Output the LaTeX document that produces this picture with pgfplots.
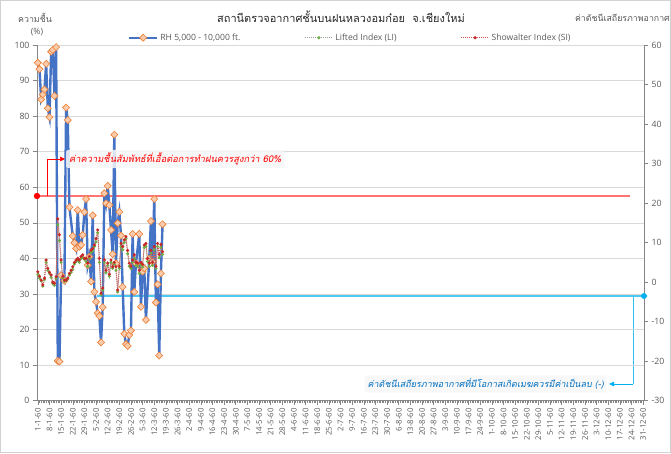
\documentclass[border=0pt]{standalone}
\usepackage{pgfplots}
\pgfplotsset{compat=1.18}
\usepackage{pgfplotstable}
\usepackage{fontspec}
\setmainfont{Open Sans}
\newfontfamily\thai[Script=Thai]{Loma}
\newfontfamily\thaiit[Script=Thai,FakeSlant=0.2]{Loma}
\usetikzlibrary{arrows.meta}

\definecolor{rhblue}{RGB}{68,114,196}
\definecolor{mkorange}{RGB}{237,125,49}
\definecolor{mkfill}{RGB}{248,203,173}
\definecolor{ligreen}{RGB}{112,173,71}
\definecolor{ligray}{RGB}{150,160,150}
\definecolor{sired}{RGB}{200,40,40}
\definecolor{gridc}{RGB}{217,217,217}
\definecolor{axc}{RGB}{134,134,134}
\definecolor{tickc}{RGB}{89,89,89}
\definecolor{annred}{RGB}{255,0,0}
\definecolor{anncyan}{RGB}{0,176,240}
\definecolor{annblue}{RGB}{0,112,192}

\pgfplotstableread{
d rh
0 95.0
1 93.2
2 84.7
3 86.1
4 87.5
5 94.7
6 82.2
7 79.7
8 98.1
9 98.6
10 85.7
11 99.4
12 11.2
13 11.0
14 35.3
16 33.7
17 82.4
18 78.9
19 54.4
21 46.3
22 44.4
23 42.8
24 53.6
25 43.3
26 43.8
27 46.6
28 53.0
29 56.7
30 38.1
31 40.5
32 33.5
33 52.1
34 30.6
35 27.8
36 24.6
37 23.8
38 16.4
39 26.3
40 58.3
41 55.5
42 60.4
43 55.0
44 48.0
45 41.2
46 74.8
47 38.6
48 49.9
49 53.1
50 46.4
51 32.0
52 18.8
53 15.9
54 15.4
55 18.5
56 19.7
57 46.9
58 30.6
59 38.6
61 46.9
62 26.4
63 36.3
64 37.2
65 22.7
67 39.9
68 50.5
69 39.1
70 56.7
71 27.6
72 32.7
73 12.7
74 35.8
75 49.6
}\rhdata

\pgfplotstableread{
d si li
0 2.6 2.0
1 1.5 1.0
2 0.5 0.3
3 -0.7 -1.0
4 1.0 0.6
5 5.6 5.0
6 3.5 3.0
7 2.5 2.2
8 1.8 1.2
9 0.0 -0.4
10 -0.3 -0.8
11 1.4 1.0
12 16.0 14.5
13 12.0 10.5
14 5.6 5.0
15 1.5 1.2
16 0.5 0.2
17 0.5 0.4
18 1.0 0.8
19 2.2 1.8
20 3.0 2.5
21 3.9 3.2
22 5.0 4.6
23 5.6 5.2
24 6.0 5.5
25 5.6 5.0
26 6.5 6.0
27 6.9 6.2
28 6.0 5.8
29 6.0 5.2
30 4.8 4.0
31 6.5 6.0
32 8.1 7.5
33 8.5 8.0
34 9.4 9.0
35 11.0 10.2
36 13.2 12.5
37 6.0 5.0
38 -2.8 -3.2
39 -1.5 -2.0
40 5.6 5.0
41 3.0 2.4
42 4.8 4.2
43 2.0 1.5
44 5.6 5.0
45 3.9 3.5
46 5.0 4.5
47 3.9 3.0
48 -2.0 -2.5
49 4.0 3.5
50 9.8 9.0
51 9.0 8.2
52 10.7 10.0
53 11.5 11.0
54 8.0 7.2
55 4.8 4.0
56 4.0 3.4
57 5.6 5.0
58 6.9 6.0
59 5.0 4.2
60 4.8 4.0
61 3.0 2.2
62 5.0 4.4
63 4.5 3.8
64 9.4 8.8
65 9.8 9.0
66 6.0 5.2
67 4.8 4.0
68 8.0 7.4
69 5.0 4.2
70 9.0 8.2
71 4.0 3.5
72 9.8 9.0
73 7.0 6.2
74 9.5 8.8
75 7.7 7.0
}\idxdata

\pgfplotsset{
  rhstyle/.style={color=rhblue, line width=2.4pt, mark=square*, mark size=2.5pt,
    mark options={rotate=45, fill=mkfill, draw=mkorange, line width=0.6pt, solid}},
  listyle/.style={color=ligray, densely dotted, line width=1pt, mark=*, mark size=1pt,
    mark options={fill=ligreen, draw=ligreen, solid}},
  sistyle/.style={color=sired!80, densely dotted, line width=1pt, mark=*, mark size=1pt,
    mark options={fill=sired, draw=sired, solid}},
  commonx/.style={
    scale only axis, width=607pt, height=355.7pt,
    at={(37pt,52.3pt)}, anchor=south west,
    xmin=-0.5, xmax=364.5,
    /pgf/number format/assume math mode=true,
    tick label style={font=\fontsize{8.7}{10}\selectfont, text=tickc},
    axis line style={axc, line width=0.6pt},
    tick style={axc, line width=0.5pt},
    tick align=outside,
  }
}

\begin{document}
\begin{tikzpicture}
\useasboundingbox (0pt,0pt) rectangle (671pt,453pt);
\draw[gray!35, line width=0.8pt] (0.5pt,0.5pt) rectangle (670.5pt,452.5pt);

% annotation lines (behind)
\draw[annred!55, line width=1.3pt] (37pt,257pt) -- (630pt,257pt);
\draw[anncyan!70, line width=1.1pt] (97pt,157pt) -- (644pt,157pt);
\draw[anncyan!80, line width=0.9pt] (633pt,157pt) -- (633pt,69pt);

\begin{axis}[commonx,
  ymin=0, ymax=100, ytick={0,10,...,100},
  axis x line*=bottom, axis y line*=left,
  xtick={0,7,...,364},
  minor x tick num=6,
  major tick length=4pt, minor tick length=2.5pt,
  xticklabels={1-1-60,8-1-60,15-1-60,22-1-60,29-1-60,5-2-60,12-2-60,19-2-60,26-2-60,5-3-60,12-3-60,19-3-60,26-3-60,2-4-60,9-4-60,16-4-60,23-4-60,30-4-60,7-5-60,14-5-60,21-5-60,28-5-60,4-6-60,11-6-60,18-6-60,25-6-60,2-7-60,9-7-60,16-7-60,23-7-60,30-7-60,6-8-60,13-8-60,20-8-60,27-8-60,3-9-60,10-9-60,17-9-60,24-9-60,1-10-60,8-10-60,15-10-60,22-10-60,29-10-60,5-11-60,12-11-60,19-11-60,26-11-60,3-12-60,10-12-60,17-12-60,24-12-60,31-12-60},
  xticklabel style={rotate=90, anchor=east, font=\fontsize{7.8}{8}\selectfont},
  ymajorgrids, major grid style={gridc, line width=0.6pt},
  legend style={at={(0.516,1)}, anchor=south, draw=none, fill=none,
    legend columns=3, font=\fontsize{8.6}{10}\selectfont, text=tickc,
    inner sep=0pt, yshift=1pt,
    /tikz/every even column/.append style={column sep=62pt}},
  legend image code/.code={\draw[mark repeat=2,mark phase=2,#1] plot coordinates {(0pt,0pt) (14pt,0pt) (28pt,0pt)};},
]
\addplot[rhstyle] table[x=d, y=rh] {\rhdata};
\addlegendentry{RH 5,000 - 10,000 ft.}
\addlegendimage{listyle}
\addlegendentry{Lifted Index (LI)}
\addlegendimage{sistyle}
\addlegendentry{Showalter Index (SI)}
\end{axis}

\begin{axis}[commonx,
  ymin=-30, ymax=60, ytick={-30,-20,...,60},
  axis x line=none, axis y line*=right,
  major tick length=4pt,
]
\addplot[listyle] table[x=d, y=li] {\idxdata};
\addplot[sistyle] table[x=d, y=si] {\idxdata};
\end{axis}

% titles
\node[font=\thai\fontsize{11}{13}\selectfont, text=black!85] at (341pt,436pt) {สถานีตรวจอากาศชั้นบนฝนหลวงอมก๋อย\ \ จ.เชียงใหม่};
\node[font=\thai\fontsize{8.8}{10}\selectfont, text=tickc] at (35pt,435pt) {ความชื้น};
\node[font=\fontsize{8.6}{10}\selectfont, text=tickc] at (37pt,421pt) {(\%)};
\node[anchor=east, font=\thai\fontsize{8.8}{10}\selectfont, text=tickc, inner sep=1pt] at (671pt,435pt) {ค่าดัชนีเสถียรภาพอากาศ};

% red annotation
\fill[annred] (37pt,257pt) circle (3.2pt);
\draw[annred, line width=0.6pt, -{Triangle[length=5pt,width=4.5pt]}] (47pt,257pt) -- (47pt,294pt) -- (65pt,294pt);
\node[anchor=west, fill=gray!6, fill opacity=0.85, text opacity=1, rounded corners=2pt, inner sep=3pt,
  font=\thaiit\fontsize{9.3}{11}\selectfont, text=annred] at (66pt,294pt) {ค่าความชื้นสัมพัทธ์ที่เอื้อต่อการทำฝนควรสูงกว่า 60\%};

% blue annotation
\fill[anncyan] (644pt,157pt) circle (3pt);
\draw[anncyan, line width=0.8pt, -{Triangle[length=5pt,width=4.5pt]}] (633pt,69pt) -- (609pt,69pt);
\node[anchor=east, fill=gray!6, fill opacity=0.85, text opacity=1, rounded corners=2pt, inner sep=3pt,
  font=\thaiit\fontsize{9}{11}\selectfont, text=annblue] at (607pt,69pt) {ค่าดัชนีเสถียรภาพอากาศที่มีโอกาสเกิดเมฆควรมีค่าเป็นลบ (-)};
\end{tikzpicture}
\end{document}
